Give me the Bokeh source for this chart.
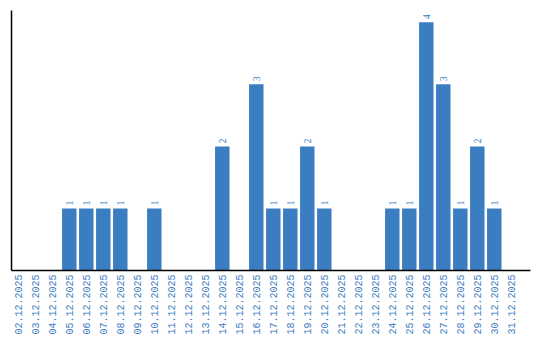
from bokeh.plotting import figure
from bokeh.models import ColumnDataSource, Range1d, FixedTicker, LabelSet
from bokeh.embed import file_html
from bokeh.resources import INLINE
import math

dates = ["02.12.2025", "03.12.2025", "04.12.2025", "05.12.2025", "06.12.2025",
         "07.12.2025", "08.12.2025", "09.12.2025", "10.12.2025", "11.12.2025",
         "12.12.2025", "13.12.2025", "14.12.2025", "15.12.2025", "16.12.2025",
         "17.12.2025", "18.12.2025", "19.12.2025", "20.12.2025", "21.12.2025",
         "22.12.2025", "23.12.2025", "24.12.2025", "25.12.2025", "26.12.2025",
         "27.12.2025", "28.12.2025", "29.12.2025", "30.12.2025", "31.12.2025"]
counts = [0, 0, 0, 1, 1, 1, 1, 0, 1, 0, 0, 0, 2, 0, 3, 1, 1, 2, 1, 0,
          0, 0, 1, 1, 4, 3, 1, 2, 1, 0]

BLUE = "#3b7dc1"
FONT = "Liberation Mono"

xs = list(range(len(dates)))
bx = [x for x, c in zip(xs, counts) if c > 0]
bc = [c for c in counts if c > 0]
src = ColumnDataSource(dict(x=bx, top=bc, label=[str(c) for c in bc]))

p = figure(frame_width=519, frame_height=260, output_backend="svg",
           toolbar_location=None,
           x_range=Range1d(-0.4, 30.13), y_range=Range1d(0, 4.19),
           min_border_left=11, min_border_right=10, min_border_top=10,
           min_border_bottom=0)
p.outline_line_color = None
p.grid.grid_line_color = None
p.background_fill_color = "white"

p.vbar(x="x", top="top", width=0.85, bottom=0, source=src,
       fill_color=BLUE, line_color=None)

labels = LabelSet(x="x", y="top", text="label", source=src, angle=math.pi / 2,
                  text_align="left", text_baseline="middle", y_offset=3,
                  text_font=FONT, text_font_size="10px", text_color=BLUE)
p.add_layout(labels)

xa = p.xaxis[0]
xa.ticker = FixedTicker(ticks=xs)
xa.major_label_overrides = {i: d for i, d in enumerate(dates)}
xa.major_label_orientation = math.pi / 2
xa.major_label_text_font = FONT
xa.major_label_text_font_size = "10px"
xa.major_label_text_color = BLUE
xa.major_tick_out = 0
xa.major_tick_in = 0
xa.minor_tick_out = 0
xa.minor_tick_in = 0
xa.major_label_standoff = 4
xa.axis_line_color = "black"
xa.axis_line_width = 1.5

ya = p.yaxis[0]
ya.ticker = FixedTicker(ticks=[])
ya.major_tick_out = 0
ya.major_tick_in = 0
ya.minor_tick_out = 0
ya.minor_tick_in = 0
ya.axis_line_color = "black"
ya.axis_line_width = 1.5
ya.major_label_standoff = 0

open("out.html", "w").write(file_html(p, INLINE))
